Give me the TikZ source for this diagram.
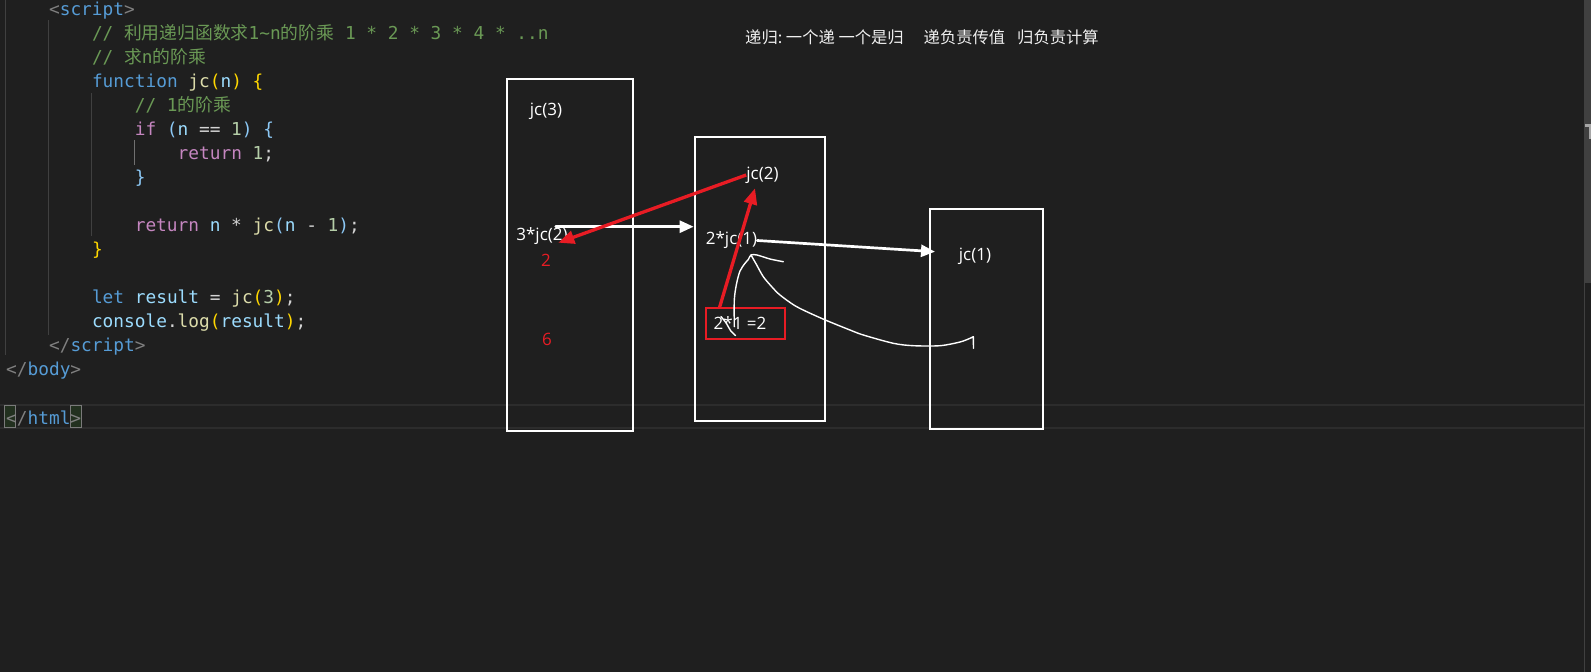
\documentclass[tikz,border=0pt]{standalone}
\usepackage{fontspec}
\setmonofont{DejaVu Sans Mono}
\newfontfamily\cjk{Noto Sans CJK SC}
\newfontfamily\lblfont{Open Sans}
\usetikzlibrary{arrows.meta}
\definecolor{bg}{HTML}{1F1F1F}
\definecolor{plain}{HTML}{D4D4D4}
\definecolor{tag}{HTML}{808080}
\definecolor{kw}{HTML}{569CD6}
\definecolor{cmt}{HTML}{6A9955}
\definecolor{fn}{HTML}{DCDCAA}
\definecolor{var}{HTML}{9CDCFE}
\definecolor{ctrl}{HTML}{C586C0}
\definecolor{num}{HTML}{B5CEA8}
\definecolor{braone}{HTML}{FFD700}
\definecolor{bratwo}{HTML}{8CC8F5}
\definecolor{guidegray}{HTML}{404040}
\definecolor{guideact}{HTML}{707070}
\definecolor{curlinegray}{HTML}{2C2C2C}
\definecolor{matchgray}{HTML}{7A7A7A}
\definecolor{matchfill}{HTML}{22301F}
\definecolor{penred}{HTML}{E81C24}
\newcommand\tk[2]{\textcolor{#1}{#2}}
\newcommand\zh[1]{{\cjk #1}}
\frenchspacing

\begin{document}
\begin{tikzpicture}[x=1pt,y=-1pt,
  codeline/.style={anchor=base west,inner sep=0pt,text=plain,font=\fontsize{17.8}{20}\selectfont\ttfamily},
  guide/.style={draw=guidegray,line width=1pt},
  matchbox/.style={draw=matchgray,fill=matchfill,line width=1pt,inner sep=0pt,minimum height=22pt},
  frame/.style={draw=white,line width=2pt,inner sep=0pt},
  lbl/.style={inner sep=0pt,text=white,font=\fontsize{17}{20}\selectfont\lblfont},
  redlbl/.style={lbl,text=penred},
  redbox/.style={draw=penred,line width=2pt,inner sep=0pt,minimum width=79pt,minimum height=31pt},
  callarrow/.style={draw=white,line width=2.7pt,line cap=round,-{Triangle[length=14pt,width=12pt]}},
  retarrow/.style={draw=penred,line width=3.3pt,-{Triangle[length=16pt,width=13pt]}},
  pen/.style={draw=white,line width=1.4pt,line cap=round,line join=round}]
% editor background
\fill[bg] (0,0) rectangle (1591,672);
\useasboundingbox (0,0) rectangle (1591,672);
% current line and scrollbar
\draw[draw=curlinegray,line width=1.2pt] (0,405) -- (1584,405);
\draw[draw=curlinegray,line width=1.2pt] (0,428) -- (1584,428);
\draw[draw=guidegray,line width=1pt] (1584.5,0) -- (1584.5,672);
\fill[fill=guidegray] (1585,0) rectangle (1591,283);
\fill[fill=gray!70] (1585,124) rectangle (1591,126.5);
\fill[fill=gray!70] (1589,124) rectangle (1591,139);
% indent guides
\foreach \x/\ya/\yb in {5/0/355,48/20/335,91/93/236}
  \draw[guide] (\x,\ya) -- (\x,\yb);
\draw[guide,draw=guideact] (134,140) -- (134,165);
\node[matchbox,minimum width=10.5pt] (mbl) at (10.2,416.5) {};
\node[matchbox,minimum width=11.5pt] (mbr) at (76,416.5) {};
% the code
\node[codeline] (l0) at (48.9,15.2) {\tk{tag}{<}\tk{kw}{script}\tk{tag}{>}};
\node[codeline,text=cmt] (l1) at (91.8,39.25) {// \zh{利用递归函数求}1\textasciitilde n\zh{的阶乘} 1 * 2 * 3 * 4 * ..n};
\node[codeline,text=cmt] (l2) at (91.8,63.3) {// \zh{求}n\zh{的阶乘}};
\node[codeline] (l3) at (91.8,87.35) {\tk{kw}{function} \tk{fn}{jc}\tk{braone}{(}\tk{var}{n}\tk{braone}{)} \tk{braone}{\{}};
\node[codeline,text=cmt] (l4) at (134.6,111.4) {// 1\zh{的阶乘}};
\node[codeline] (l5) at (134.6,135.45) {\tk{ctrl}{if} \tk{bratwo}{(}\tk{var}{n} == \tk{num}{1}\tk{bratwo}{)} \tk{bratwo}{\{}};
\node[codeline] (l6) at (177.5,159.5) {\tk{ctrl}{return} \tk{num}{1};};
\node[codeline] (l7) at (134.6,183.55) {\tk{bratwo}{\}}};
\node[codeline] (l9) at (134.6,231.65) {\tk{ctrl}{return} \tk{var}{n} * \tk{fn}{jc}\tk{bratwo}{(}\tk{var}{n} - \tk{num}{1}\tk{bratwo}{)};};
\node[codeline] (l10) at (91.8,255.7) {\tk{braone}{\}}};
\node[codeline] (l12) at (91.8,303.8) {\tk{kw}{let} \tk{var}{result} = \tk{fn}{jc}\tk{braone}{(}\tk{num}{3}\tk{braone}{)};};
\node[codeline] (l13) at (91.8,327.85) {\tk{var}{console}.\tk{fn}{log}\tk{braone}{(}\tk{var}{result}\tk{braone}{)};};
\node[codeline] (l14) at (48.9,351.9) {\tk{tag}{</}\tk{kw}{script}\tk{tag}{>}};
\node[codeline] (l15) at (6,375.95) {\tk{tag}{</}\tk{kw}{body}\tk{tag}{>}};
\node[codeline] (l17) at (6,424.05) {\tk{tag}{</}\tk{kw}{html}\tk{tag}{>}};
% the note on top
\node[anchor=west,inner sep=0pt,text=white!94!black,font=\fontsize{16.3}{20}\selectfont\cjk] (note) at (745,37.5)
  {递归: 一个递 一个是归\hspace{20pt}递负责传值\hspace{12pt}归负责计算};
% the three calls
\node[frame,minimum width=126.6pt,minimum height=351.7pt] (box3) at (570,254.8) {};
\node[frame,minimum width=130.3pt,minimum height=284pt] (box2) at (759.8,279) {};
\node[frame,minimum width=113.3pt,minimum height=219.7pt] (box1) at (986.7,318.8) {};
\node[lbl] (jc3) at (546,111) {jc(3)};
\node[lbl] (l3jc2) at (542,236) {3*jc(2)};
\node[redlbl] (val2) at (546,260) {2};
\node[redlbl] (val6) at (547,339) {6};
\node[lbl] (jc2) at (762.5,175) {jc(2)};
\node[lbl] (l2jc1) at (731.5,240.5) {2*jc(1)};
\node[redbox] (rb) at (745.35,323.2) {};
\node[lbl] (prod) at (740,323) {2*1 =2};
\node[lbl] (jc1) at (975,256.5) {jc(1)};
% arrows
\coordinate (c32) at (555.7,226.7);
\coordinate (c1) at (935,251.7);
\coordinate (r3) at (558.3,242.7);
\coordinate (rbtop) at (719.3,308.3);
\coordinate (r2) at (755,188.3);
\draw[callarrow] (c32) -- (c32 -| box2.west);
\draw[callarrow] (l2jc1.east) -- (c1);
% hand strokes
\draw[pen] plot[smooth] coordinates {(734.3,326.7) (734.3,300) (736.5,284) (740,271) (745,263.3) (748.3,259.5) (751,255) (757,255) (770,259) (783.3,261.7)};
\draw[pen] plot[smooth] coordinates {(751,255) (756.7,265) (763.3,276.7) (772,287) (780,295) (796.7,306.7) (823,319) (850,330) (863.3,335) (893.3,343.3) (913.3,345.7) (940,345.7) (960,342) (970,338.3) (973.3,336.7)} -- (973.5,348.3);
\draw[pen] plot[smooth] coordinates {(721,316.5) (726.5,323.5) (730.5,330.5) (735.5,335.5)};
\draw[retarrow] (jc2.west) -- (r3);
\draw[retarrow] (rbtop) -- (r2);
\end{tikzpicture}
\end{document}
